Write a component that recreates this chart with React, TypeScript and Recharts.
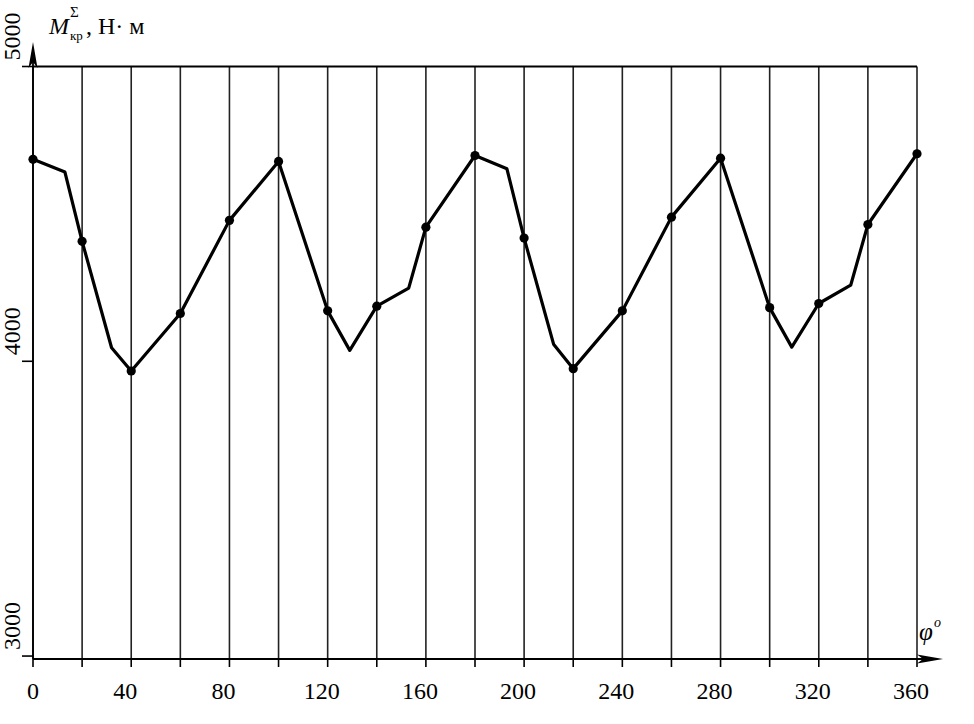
import React from "react";
import { LineChart, Line, XAxis, YAxis, CartesianGrid, ReferenceLine } from "recharts";

// угол поворота коленвала, град
const PHI = [0, 13, 20, 32, 40, 60, 80, 100, 120, 129, 140, 153, 160, 180, 193, 200, 212, 220, 240, 260, 280, 300, 309, 320, 333, 340, 360];
// суммарный крутящий момент, Н·м
const TORQUE = [4685, 4642, 4407, 4046, 3967, 4162, 4478, 4678, 4171, 4037, 4187, 4248, 4455, 4698, 4653, 4418, 4058, 3975, 4171, 4489, 4689, 4182, 4048, 4196, 4258, 4464, 4704];

const X_TICKS = [0, 20, 40, 60, 80, 100, 120, 140, 160, 180, 200, 220, 240, 260, 280, 300, 320, 340, 360];
const X_LABELS = [0, 40, 80, 120, 160, 200, 240, 280, 320, 360];
const Y_TICKS = [3000, 4000, 5000];

const data = PHI.map((phi, i) => ({ phi, m: TORQUE[i] }));

const FONT = "Liberation Serif, DejaVu Serif, serif";
const fontStyle = { fontFamily: FONT };

function XTick(props: any) {
  const { x, y, payload } = props;
  if (!X_LABELS.includes(payload.value)) return <g />;
  const dx = payload.value === 0 ? 0 : -6;
  return (
    <text x={x + dx} y={y + 30} textAnchor="middle" style={fontStyle} fontSize={24} fill="#000">
      {payload.value}
    </text>
  );
}

function YTick(props: any) {
  const { x, y, payload } = props;
  const ty = y - 6;
  return (
    <text x={x} y={ty} transform={`rotate(-90, ${x}, ${ty})`} textAnchor="start" style={fontStyle} fontSize={24} fill="#000">
      {payload.value}
    </text>
  );
}

// ось со стрелкой
function Arrow(props: any) {
  const { x1, y1, x2, y2 } = props;
  const len = Math.hypot(x2 - x1, y2 - y1) || 1;
  const ux = (x2 - x1) / len;
  const uy = (y2 - y1) / len;
  const px = -uy;
  const py = ux;
  const L = 26;
  const W = 4.5;
  const bx = x2 - ux * L;
  const by = y2 - uy * L;
  const nx = x2 - ux * (L - 6);
  const ny = y2 - uy * (L - 6);
  const pts = `${x2},${y2} ${bx + px * W},${by + py * W} ${nx},${ny} ${bx - px * W},${by - py * W}`;
  return (
    <g>
      <line x1={x1} y1={y1} x2={nx} y2={ny} stroke="#000" strokeWidth={1.8} />
      <polygon points={pts} fill="#000" />
    </g>
  );
}

function Dot(props: any) {
  const { cx, cy, payload, index } = props;
  if (payload.phi % 20 !== 0) return <g key={`d${index}`} />;
  return <circle key={`d${index}`} cx={cx} cy={cy} r={4.6} fill="#000" />;
}

export default function App() {
  return (
    <div style={{ position: "absolute", left: 0, top: 0, width: 974, height: 724, background: "#fff" }}>
      <LineChart width={974} height={724} data={data} margin={{ top: 66.5, right: 57, bottom: 25, left: 0 }}>
        <CartesianGrid vertical horizontal={false} stroke="#222" strokeWidth={1.6} />
        <XAxis
          dataKey="phi"
          type="number"
          domain={[0, 360]}
          ticks={X_TICKS}
          interval={0}
          height={40}
          tickSize={8}
          axisLine={false}
          tickLine={{ stroke: "#000", strokeWidth: 1.6 }}
          tick={<XTick />}
        />
        <YAxis
          type="number"
          domain={[2990, 5000]}
          ticks={Y_TICKS}
          interval={0}
          width={33}
          tickSize={11}
          axisLine={false}
          tickLine={{ stroke: "#000", strokeWidth: 1.6 }}
          tick={<YTick />}
        />
        <ReferenceLine y={5000} stroke="#000" strokeWidth={1.8} />
        <ReferenceLine
          segment={[{ x: 0, y: 2990 }, { x: 370.6, y: 2990 }]}
          ifOverflow="visible"
          shape={Arrow}
        />
        <ReferenceLine
          segment={[{ x: 0, y: 2990 }, { x: 0, y: 5083 }]}
          ifOverflow="visible"
          shape={Arrow}
        />
        <Line
          type="linear"
          dataKey="m"
          stroke="#000"
          strokeWidth={3.2}
          strokeLinejoin="round"
          dot={Dot}
          activeDot={false}
          isAnimationActive={false}
        />
      </LineChart>
      <svg width={974} height={724} style={{ position: "absolute", left: 0, top: 0, pointerEvents: "none" }}>
        <g style={fontStyle} fill="#000">
          <text x={49} y={34} fontSize={24} fontStyle="italic">M</text>
          <text x={70} y={17} fontSize={15}>Σ</text>
          <text x={70} y={40} fontSize={13}>кр</text>
          <text x={86} y={34} fontSize={24}>, Н· м</text>
          <text x={919} y={640} fontSize={25} fontStyle="italic">φ</text>
          <text x={934} y={627} fontSize={14} fontStyle="italic">o</text>
        </g>
      </svg>
    </div>
  );
}
